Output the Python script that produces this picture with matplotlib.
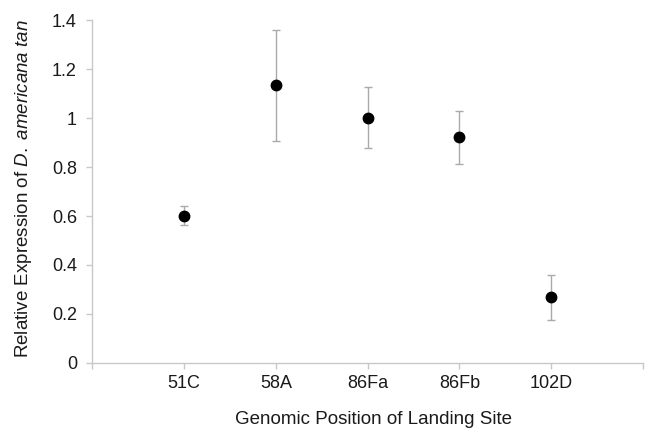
import matplotlib
matplotlib.use("Agg")
import matplotlib.pyplot as plt
import numpy as np

# values
sites = ["51C", "58A", "86Fa", "86Fb", "102D"]
expression = [0.601, 1.134, 1.001, 0.921, 0.269]
err_low = [0.563, 0.905, 0.876, 0.813, 0.176]
err_high = [0.639, 1.361, 1.125, 1.030, 0.361]

plt.rcParams['font.family'] = ['Liberation Sans', 'DejaVu Sans']
plt.rcParams['mathtext.fontset'] = 'custom'
plt.rcParams['mathtext.rm'] = 'Liberation Sans'
plt.rcParams['mathtext.it'] = 'Liberation Sans:italic'

axis_grey = '#c8c8c8'
bar_grey = '#aaaaaa'
text_col = '#1a1a1a'

fig = plt.figure(figsize=(6.45, 4.29), dpi=100)
ax = fig.add_axes([0.143, 0.154, 0.854, 0.799])

x = np.arange(1, len(sites) + 1)
y = np.array(expression)
yerr = [y - np.array(err_low), np.array(err_high) - y]

ax.errorbar(x, y, yerr=yerr, fmt='o', color='black', markersize=7.5,
            ecolor=bar_grey, elinewidth=1.0, capsize=2.7, capthick=1.0, zorder=3)

ax.set_xlim(0, len(sites) + 1)
ax.set_ylim(0, 1.4)
ax.set_yticks(np.arange(0, 1.41, 0.2))
ax.set_yticklabels(['0', '0.2', '0.4', '0.6', '0.8', '1', '1.2', '1.4'])
ax.set_xticks(np.arange(0, len(sites) + 2))
ax.set_xticklabels([''] + sites + [''])

for side in ['top', 'right']:
    ax.spines[side].set_visible(False)
for side in ['left', 'bottom']:
    ax.spines[side].set_color(axis_grey)
    ax.spines[side].set_linewidth(1.0)

ax.tick_params(axis='both', colors=axis_grey, length=4, width=1.0,
               labelcolor=text_col, labelsize=13)
ax.tick_params(axis='y', pad=7)
ax.tick_params(axis='x', pad=5)

ax.set_ylabel(r'Relative Expression of $\mathit{D.\ americana\ tan}$',
              fontsize=13.5, color=text_col, va='center')
ax.yaxis.set_label_coords(-0.125, 0.51)
ax.set_xlabel('Genomic Position of Landing Site', fontsize=13.5,
              color=text_col, va='center')
ax.xaxis.set_label_coords(0.51, -0.165)

fig.savefig('out.png', dpi=100, facecolor='white')
